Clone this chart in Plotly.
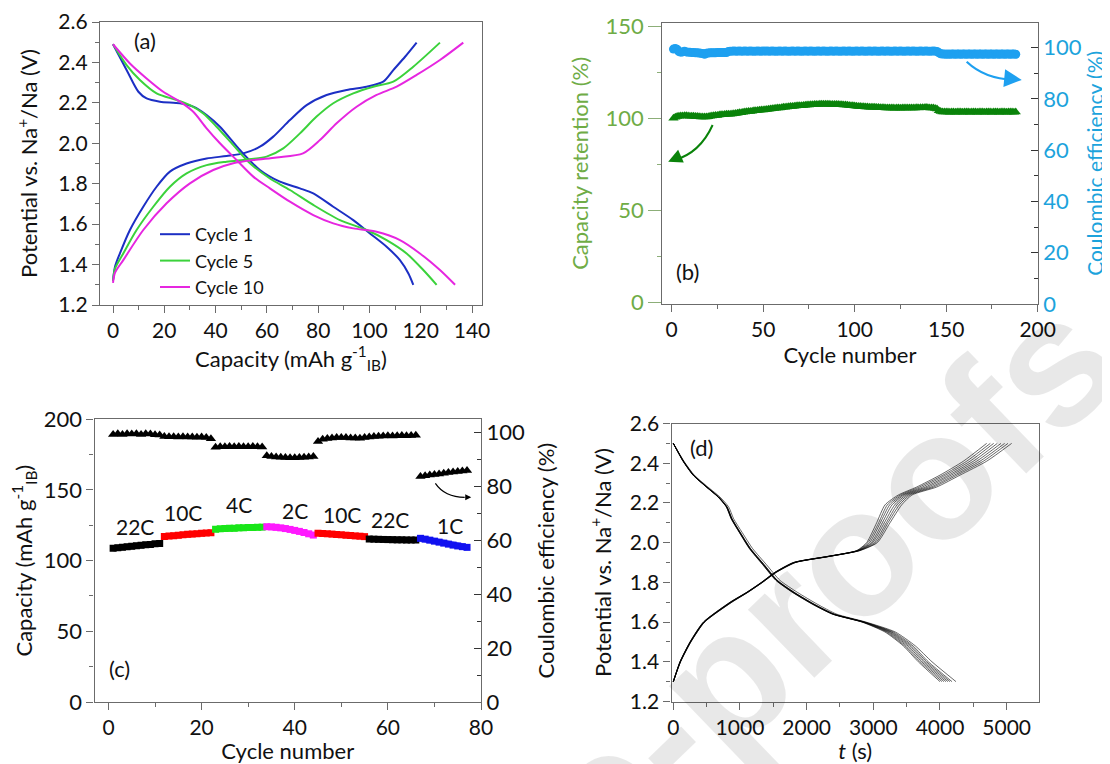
import plotly.graph_objects as go

# page is rendered with an 8 px body margin: figure sized to fit the window exactly
OFF = 8
W, H = 1110 - OFF, 764 - OFF
FONT = "Lato, 'Open Sans', sans-serif"
FRAME = "#6b6b6b"
TXT = "#111111"

# ---------------- (a) charge/discharge profiles ----------------
a_c1_dis_cap = [0, 5.3, 9.9, 13.1, 18.3, 26.1, 31.3, 36.5, 41.7, 49.5, 57.3, 65.1, 72.9, 78.1, 85.9, 93.7, 100.2, 106.7, 111.9, 115.2, 117.1]
a_c1_dis_v = [2.49, 2.363, 2.255, 2.222, 2.206, 2.198, 2.181, 2.14, 2.082, 1.967, 1.868, 1.81, 1.777, 1.752, 1.686, 1.62, 1.554, 1.488, 1.422, 1.356, 1.30]
a_c1_chg_cap = [0, 0.8, 2.7, 6.6, 11.8, 17, 22.2, 28.7, 36.5, 44.3, 50.8, 57.3, 62.5, 69, 75.5, 83.3, 91.1, 98.9, 105.4, 109.3, 113.9, 118.4]
a_c1_chg_v = [1.32, 1.39, 1.455, 1.571, 1.686, 1.785, 1.86, 1.9, 1.925, 1.937, 1.95, 1.983, 2.033, 2.115, 2.189, 2.239, 2.264, 2.28, 2.305, 2.362, 2.428, 2.498]

a_c5_dis_cap = [0, 5.3, 10.5, 17, 24.8, 30, 35.2, 40.4, 46.9, 53.4, 61.2, 69, 78.1, 88.5, 98.9, 106.7, 114.5, 121, 126.2]
a_c5_dis_v = [2.49, 2.387, 2.313, 2.247, 2.214, 2.189, 2.148, 2.082, 1.991, 1.901, 1.826, 1.769, 1.695, 1.62, 1.571, 1.521, 1.455, 1.373, 1.30]
a_c5_chg_cap = [0, 0.8, 4, 9.2, 15.7, 22.2, 28.7, 36.5, 44.3, 52.1, 59.9, 66.4, 72.9, 79.4, 85.9, 93.7, 101.5, 109.3, 117.1, 127.5]
a_c5_chg_v = [1.32, 1.38, 1.455, 1.571, 1.686, 1.785, 1.851, 1.892, 1.909, 1.92, 1.934, 1.975, 2.049, 2.132, 2.198, 2.247, 2.28, 2.305, 2.379, 2.498]

a_c10_dis_cap = [0, 6.6, 13.1, 19.6, 26.1, 31.3, 36.5, 41.7, 48.2, 54.7, 61.2, 69, 78.1, 85.9, 93.7, 102.8, 111.9, 119.7, 127.5, 133.4]
a_c10_dis_v = [2.49, 2.395, 2.321, 2.255, 2.206, 2.156, 2.074, 2.0, 1.917, 1.835, 1.777, 1.711, 1.645, 1.604, 1.579, 1.562, 1.521, 1.455, 1.373, 1.30]
a_c10_chg_cap = [0, 0.8, 4, 11.8, 20.9, 30, 39.1, 46.9, 54.7, 63.8, 74.1, 80.7, 87.2, 95, 102.8, 110.6, 118.4, 127.5, 136.6]
a_c10_chg_v = [1.31, 1.36, 1.422, 1.571, 1.703, 1.802, 1.868, 1.901, 1.917, 1.93, 1.95, 2.016, 2.099, 2.181, 2.239, 2.28, 2.338, 2.412, 2.498]

a_names = ["Cycle 1", "Cycle 5", "Cycle 10"]
a_colors = ["#1c2fc4", "#3bd23b", "#e626e0"]

# ---------------- (b) long cycling ----------------
b_retention = [
    100.2, 100.8, 101.2, 101.4, 101.5, 101.5, 101.6, 101.6, 101.5, 101.4,
    101.3, 101.3, 101.2, 101.2, 101.1, 101.0, 100.9, 100.9, 101.0, 101.1,
    101.3, 101.5, 101.6, 101.7, 101.8, 102.0, 102.1, 102.2, 102.3, 102.4,
    102.4, 102.5, 102.6, 102.7, 102.9, 103.0, 103.2, 103.3, 103.5, 103.6,
    103.8, 103.9, 104.0, 104.1, 104.3, 104.4, 104.5, 104.6, 104.7, 104.8,
    104.9, 105.0, 105.2, 105.3, 105.4, 105.5, 105.7, 105.8, 105.9, 106.0,
    106.2, 106.3, 106.4, 106.5, 106.6, 106.7, 106.8, 106.9, 107.0, 107.0,
    107.1, 107.2, 107.3, 107.4, 107.5, 107.6, 107.6, 107.7, 107.7, 107.8,
    107.9, 107.9, 107.9, 107.9, 107.9, 107.9, 107.8, 107.8, 107.8, 107.7,
    107.7, 107.6, 107.6, 107.5, 107.4, 107.3, 107.2, 107.1, 107.0, 106.9,
    106.8, 106.7, 106.6, 106.5, 106.5, 106.4, 106.4, 106.3, 106.3, 106.2,
    106.2, 106.1, 106.1, 106.0, 106.0, 106.0, 105.9, 105.9, 105.9, 105.8,
    105.8, 105.7, 105.8, 105.8, 105.7, 105.8, 105.8, 105.9, 105.8, 105.8,
    105.9, 105.9, 105.9, 106.0, 105.9, 106.0, 106.0, 106.0, 106.1, 106.0,
    105.9, 105.9, 105.8, 105.6, 105.3,
    104.4, 103.9, 103.7, 103.6, 103.6,
    103.6, 103.5, 103.6, 103.6, 103.5, 103.6, 103.6, 103.6, 103.5, 103.6,
    103.6, 103.6, 103.5, 103.6, 103.6, 103.6, 103.5, 103.6, 103.6, 103.6,
    103.5, 103.6, 103.6, 103.6, 103.5, 103.6, 103.6, 103.6, 103.5, 103.6,
    103.6, 103.6, 103.5, 103.6, 103.6, 103.6, 103.5, 103.6,
]
b_ce = [
    99.4, 99.6, 99.3, 98.4, 98.2, 98.3, 98.6, 98.3, 98.2, 98.2,
    98.1, 98.1, 98.0, 98.0, 97.9, 97.8, 97.7, 97.4, 97.8, 97.9,
    98.0, 98.0, 98.0, 98.0, 98.1, 98.1, 98.1, 98.1, 98.1, 98.1,
    98.5, 98.6, 98.6, 98.7, 98.6, 98.6, 98.7, 98.6, 98.6, 98.7,
    98.6, 98.6, 98.7, 98.6, 98.6, 98.6, 98.7, 98.6, 98.6, 98.7,
    98.6, 98.7, 98.6, 98.6, 98.7, 98.6, 98.6, 98.6, 98.7, 98.6,
    98.6, 98.7, 98.6, 98.6, 98.6, 98.7, 98.6, 98.6, 98.7, 98.6,
    98.6, 98.6, 98.7, 98.6, 98.6, 98.7, 98.6, 98.6, 98.6, 98.7,
    98.6, 98.6, 98.7, 98.6, 98.6, 98.6, 98.7, 98.6, 98.6, 98.7,
    98.6, 98.6, 98.6, 98.7, 98.6, 98.6, 98.7, 98.6, 98.6, 98.6,
    98.7, 98.6, 98.6, 98.7, 98.6, 98.6, 98.6, 98.7, 98.6, 98.6,
    98.7, 98.6, 98.6, 98.6, 98.7, 98.6, 98.6, 98.7, 98.6, 98.6,
    98.6, 98.7, 98.6, 98.6, 98.7, 98.6, 98.6, 98.6, 98.7, 98.6,
    98.6, 98.7, 98.6, 98.6, 98.6, 98.7, 98.6, 98.6, 98.7, 98.6,
    98.6, 98.6, 98.7, 98.6, 98.5,
    98.0, 97.6, 97.5, 97.5, 97.4,
    97.5, 97.4, 97.5, 97.5, 97.4, 97.5, 97.5, 97.4, 97.5, 97.5,
    97.4, 97.5, 97.5, 97.4, 97.5, 97.5, 97.4, 97.5, 97.5, 97.4,
    97.5, 97.5, 97.4, 97.5, 97.5, 97.4, 97.5, 97.5, 97.4, 97.5,
    97.5, 97.4, 97.5, 97.5, 97.4, 97.5, 97.5, 97.4,
]
b_cycles = list(range(1, len(b_retention) + 1))

# ---------------- (c) rate capability ----------------
c_rates = ["22C", "10C", "4C", "2C", "10C", "22C", "1C"]
c_seg_colors = ["#000000", "#ff0000", "#19e619", "#ff1aff", "#ff0000", "#000000", "#1010f0"]
c_capacity = [
    [108.8, 109.2, 109.5, 109.9, 110.2, 110.5, 110.9, 111.2, 111.5, 111.9, 112.2],
    [117.1, 117.4, 117.7, 118.0, 118.3, 118.6, 118.8, 119.1, 119.3, 119.6, 119.8],
    [122.3, 122.5, 122.7, 122.9, 123.0, 123.2, 123.3, 123.4, 123.5, 123.6, 123.7],
    [124.0, 123.9, 123.6, 123.2, 122.7, 122.1, 121.4, 120.7, 119.9, 119.0, 118.1],
    [119.4, 119.2, 119.0, 118.8, 118.5, 118.3, 118.0, 117.8, 117.5, 117.3, 117.0],
    [115.3, 115.2, 115.1, 115.0, 114.9, 114.8, 114.7, 114.7, 114.6, 114.6, 114.6],
    [115.8, 115.2, 114.5, 113.8, 113.1, 112.4, 111.7, 111.0, 110.4, 109.9, 109.4],
]
c_ce = [
    [99.4, 99.6, 99.4, 99.6, 99.5, 99.6, 99.4, 99.6, 99.5, 99.3, 99.2],
    [98.6, 98.5, 98.5, 98.4, 98.5, 98.4, 98.4, 98.3, 98.4, 98.2, 97.8],
    [94.6, 94.8, 94.8, 94.9, 94.8, 94.9, 94.8, 94.8, 94.9, 94.8, 94.7],
    [91.5, 91.2, 91.0, 90.9, 90.8, 90.7, 90.7, 90.8, 90.9, 91.0, 91.2],
    [96.8, 97.6, 97.9, 98.1, 98.2, 98.2, 98.2, 98.1, 98.1, 98.0, 98.2],
    [98.4, 98.6, 98.7, 98.8, 98.9, 98.8, 98.9, 99.0, 98.9, 99.0, 99.1],
    [83.8, 84.0, 84.3, 84.5, 84.7, 85.0, 85.2, 85.4, 85.6, 85.8, 86.0],
]
c_label_x = [5.7, 16.0, 28.1, 40.0, 50.2, 60.4, 73.3]
c_label_y = [124.5, 133.9, 139.4, 135.8, 132.3, 128.8, 125.2]

# ---------------- (d) repeated galvanostatic cycles ----------------
d_chg_v = [1.30, 1.40, 1.50, 1.60, 1.70, 1.75, 1.80, 1.85, 1.90, 1.93, 1.96, 2.00, 2.10, 2.19, 2.24, 2.28, 2.34, 2.41, 2.50]
d_chg_t = [
    [0, 100, 250, 450, 850, 1100, 1320, 1520, 1800, 2300, 2750, 2900, 3050, 3175, 3375, 3650, 4000, 4350, 4700],
    [0, 100, 252, 453, 854, 1103, 1323, 1523, 1805, 2305, 2757, 2920, 3080, 3210, 3405, 3690, 4045, 4400, 4755],
    [0, 102, 254, 456, 858, 1106, 1326, 1526, 1810, 2310, 2764, 2945, 3105, 3245, 3435, 3735, 4085, 4450, 4805],
    [0, 104, 256, 459, 862, 1109, 1329, 1530, 1815, 2315, 2771, 2970, 3135, 3280, 3460, 3780, 4130, 4500, 4860],
    [0, 105, 258, 462, 866, 1112, 1332, 1533, 1820, 2320, 2779, 2990, 3165, 3320, 3490, 3820, 4170, 4550, 4915],
    [0, 106, 260, 465, 870, 1115, 1335, 1537, 1825, 2325, 2786, 3015, 3195, 3355, 3520, 3865, 4215, 4600, 4970],
    [0, 108, 262, 468, 875, 1118, 1338, 1541, 1830, 2330, 2793, 3040, 3220, 3390, 3550, 3905, 4255, 4650, 5020],
    [0, 110, 265, 470, 880, 1121, 1340, 1545, 1835, 2335, 2800, 3060, 3250, 3425, 3580, 3950, 4300, 4700, 5075],
]
d_dis_v = [2.50, 2.41, 2.34, 2.28, 2.23, 2.18, 2.12, 2.05, 1.97, 1.89, 1.81, 1.75, 1.69, 1.64, 1.60, 1.55, 1.48, 1.40, 1.30]
d_dis_t = [
    [0, 145, 295, 495, 670, 795, 868, 992, 1140, 1338, 1538, 1785, 2085, 2385, 2830, 3175, 3450, 3675, 4000],
    [0, 148, 298, 498, 672, 797, 870, 995, 1145, 1342, 1542, 1790, 2090, 2390, 2838, 3195, 3470, 3700, 4030],
    [0, 150, 300, 500, 675, 800, 873, 998, 1148, 1346, 1546, 1795, 2095, 2395, 2845, 3215, 3495, 3725, 4060],
    [0, 150, 300, 500, 675, 800, 875, 1000, 1150, 1350, 1550, 1800, 2100, 2400, 2850, 3235, 3520, 3750, 4090],
    [0, 152, 302, 502, 678, 803, 878, 1002, 1153, 1354, 1554, 1805, 2105, 2405, 2858, 3255, 3545, 3775, 4120],
    [0, 152, 304, 504, 680, 805, 880, 1005, 1156, 1358, 1558, 1810, 2110, 2410, 2865, 3275, 3570, 3800, 4150],
    [0, 155, 306, 506, 682, 808, 882, 1008, 1160, 1362, 1562, 1815, 2115, 2415, 2872, 3300, 3595, 3825, 4180],
    [0, 160, 315, 520, 700, 830, 905, 1035, 1190, 1395, 1600, 1860, 2160, 2450, 2890, 3330, 3630, 3880, 4240],
]

fig = go.Figure()

# (a)
a_sets = [
    (a_c1_dis_cap, a_c1_dis_v, a_c1_chg_cap, a_c1_chg_v),
    (a_c5_dis_cap, a_c5_dis_v, a_c5_chg_cap, a_c5_chg_v),
    (a_c10_dis_cap, a_c10_dis_v, a_c10_chg_cap, a_c10_chg_v),
]
for name, col, (dc, dv, cc, cv) in zip(a_names, a_colors, a_sets):
    fig.add_trace(go.Scatter(x=dc, y=dv, mode="lines", name=name, legendgroup=name,
                             line=dict(color=col, width=2, shape="spline", smoothing=0.8),
                             xaxis="x", yaxis="y"))
    fig.add_trace(go.Scatter(x=cc, y=cv, mode="lines", name=name, legendgroup=name, showlegend=False,
                             line=dict(color=col, width=2, shape="spline", smoothing=0.8),
                             xaxis="x", yaxis="y"))

# (b)
fig.add_trace(go.Scatter(x=b_cycles, y=b_retention, mode="lines+markers", showlegend=False,
                         line=dict(color="#0a830a", width=2),
                         marker=dict(symbol="triangle-up", size=9, color="#0a830a"),
                         xaxis="x2", yaxis="y2"))
fig.add_trace(go.Scatter(x=b_cycles, y=b_ce, mode="lines+markers", showlegend=False,
                         line=dict(color="#1ea0f0", width=2),
                         marker=dict(symbol="circle", size=9, color="#1ea0f0"),
                         xaxis="x2", yaxis="y3"))

# (c)
start = 1
for seg, ce_seg, col in zip(c_capacity, c_ce, c_seg_colors):
    xs = list(range(start, start + len(seg)))
    fig.add_trace(go.Scatter(x=xs, y=seg, mode="lines+markers", showlegend=False,
                             line=dict(color=col, width=6),
                             marker=dict(symbol="square", size=7, color=col),
                             xaxis="x3", yaxis="y4"))
    fig.add_trace(go.Scatter(x=xs, y=ce_seg, mode="lines+markers", showlegend=False,
                             line=dict(color="#000000", width=1.5),
                             marker=dict(symbol="triangle-up", size=9, color="#000000"),
                             xaxis="x3", yaxis="y5"))
    start += len(seg)

# (d)
for ts in d_chg_t:
    fig.add_trace(go.Scatter(x=ts, y=d_chg_v, mode="lines", showlegend=False,
                             line=dict(color="rgba(0,0,0,0.75)", width=0.8, shape="spline", smoothing=0.6),
                             xaxis="x4", yaxis="y6"))
for ts in d_dis_t:
    fig.add_trace(go.Scatter(x=ts, y=d_dis_v, mode="lines", showlegend=False,
                             line=dict(color="rgba(0,0,0,0.75)", width=0.8, shape="spline", smoothing=0.6),
                             xaxis="x4", yaxis="y6"))


def px_dom_x(a, b):
    return [(a - OFF) / W, (b - OFF) / W]


def px_dom_y(top, bottom):
    return [1 - (bottom - OFF) / H, 1 - (top - OFF) / H]


def pxx(a):
    return (a - OFF) / W


def pxy(b):
    return 1 - (b - OFF) / H


tickfont = dict(family=FONT, size=21, color=TXT)
titlefont = dict(family=FONT, size=22, color=TXT)


def ax(domain, rng, dtick, minor_dtick, anchor, title="", ticks="outside", ticklen=7,
       tickcolor=FRAME, tfont=None, ttfont=None, standoff=8, **kw):
    d = dict(domain=domain, range=rng, dtick=dtick, tick0=0, anchor=anchor, automargin=False,
             showline=True, linecolor=FRAME, linewidth=1.3, mirror=True,
             ticks=ticks, ticklen=ticklen, tickwidth=1.2, tickcolor=tickcolor,
             minor=dict(dtick=minor_dtick, tick0=0, ticks=ticks, ticklen=4, tickwidth=1, tickcolor=tickcolor),
             showgrid=False, zeroline=False, tickfont=tfont or tickfont,
             title=dict(text=title, font=ttfont or titlefont, standoff=standoff))
    d.update(kw)
    return d


GREEN_T = "#6fac46"
BLUE_T = "#1ca3dc"

fig.update_layout(
    width=W, height=H, margin=dict(l=0, r=0, t=0, b=0, autoexpand=False),
    paper_bgcolor="white", plot_bgcolor="white",
    font=dict(family=FONT, color=TXT),
    showlegend=True,
    legend=dict(x=pxx(155), y=pxy(216), xanchor="left", yanchor="top",
                bgcolor="rgba(0,0,0,0)", font=dict(family=FONT, size=18, color=TXT),
                tracegroupgap=0, itemwidth=30),
    # (a)
    xaxis=ax(px_dom_x(100, 482), [-5.07, 143.9], 20, 10, "y",
             "Capacity (mAh g<sup>-1</sup><sub>IB</sub>)", standoff=3),
    yaxis=ax(px_dom_y(22, 305), [1.2, 2.6], 0.2, 0.1, "x",
             "Potential vs. Na<sup>+</sup>/Na (V)", standoff=14, tickformat=".1f"),
    # (b)
    xaxis2=ax(px_dom_x(662.3, 1037.7), [-5.1, 200], 50, 25, "y2", "Cycle number", standoff=4),
    yaxis2=ax(px_dom_y(22.7, 304), [-0.7, 152.2], 50, 25, "x2", "Capacity retention (%)",
              ticklen=13, tickcolor="#8cae78",
              tfont=dict(family=FONT, size=22, color=GREEN_T),
              ttfont=dict(family=FONT, size=22, color=GREEN_T), standoff=10),
    yaxis3=ax(px_dom_y(22.7, 304), [0, 109.7], 20, 10, "x2", "Coulombic efficiency (%)",
              ticks="inside", ticklen=7, tickcolor="#333333",
              tfont=dict(family=FONT, size=22, color=BLUE_T),
              ttfont=dict(family=FONT, size=21, color=BLUE_T),
              overlaying="y2", side="right", standoff=0),
    # (c)
    xaxis3=ax(px_dom_x(94.5, 481), [-3.0, 80], 20, 10, "y4", "Cycle number", standoff=6),
    yaxis4=ax(px_dom_y(419.3, 702), [0, 200], 50, 25, "x3",
              "Capacity (mAh g<sup>-1</sup><sub>IB</sub>)", standoff=10,
              tfont=dict(family=FONT, size=22, color=TXT)),
    yaxis5=ax(px_dom_y(419.3, 702), [0, 105], 20, 10, "x3", "Coulombic efficiency (%)",
              ticks="inside", tickcolor="#333333", overlaying="y4", side="right", standoff=14,
              tfont=dict(family=FONT, size=22, color=TXT)),
    # (d)
    xaxis4=ax(px_dom_x(671.5, 1038.8), [-27, 5482], 1000, 500, "y6", "<i>t</i> (s)", standoff=6),
    yaxis6=ax(px_dom_y(423.5, 701.5), [1.2, 2.6], 0.2, 0.1, "x4",
              "Potential vs. Na<sup>+</sup>/Na (V)", standoff=12, tickformat=".1f"),
)

annos = []
# watermark
annos.append(dict(text="Journal Pre-proofs", xref="paper", yref="paper", x=pxx(506), y=pxy(888),
                  xanchor="center", yanchor="middle",
                  showarrow=False, textangle=-44,
                  font=dict(family="Liberation Sans, Arial, sans-serif", size=180, color="rgba(0,0,0,0.09)",
                            weight="bold")))
# panel labels
lab_font = dict(family=FONT, size=22, color=TXT)
annos.append(dict(text="(a)", x=12.5, y=2.51, xref="x", yref="y", showarrow=False, font=lab_font))
annos.append(dict(text="(b)", x=8.9, y=16.7, xref="x2", yref="y2", showarrow=False, font=lab_font))
annos.append(dict(text="(c)", x=2.3, y=24, xref="x3", yref="y4", showarrow=False, font=lab_font))
annos.append(dict(text="(d)", x=430, y=2.477, xref="x4", yref="y6", showarrow=False, font=lab_font))
# rate labels in (c)
for t, lx, ly in zip(c_rates, c_label_x, c_label_y):
    annos.append(dict(text=t, x=lx, y=ly, xref="x3", yref="y4", showarrow=False,
                      font=dict(family=FONT, size=21, color=TXT)))
# arrowheads
annos.append(dict(text="", x=-1.9, y=76.6, xref="x2", yref="y2", showarrow=True,
                  ax=9, ay=-4, arrowhead=2, arrowsize=1.4, arrowwidth=2, arrowcolor="#0a830a"))
annos.append(dict(text="", x=191.3, y=87.4, xref="x2", yref="y3", showarrow=True,
                  ax=-10, ay=-1, arrowhead=2, arrowsize=1.6, arrowwidth=2.2, arrowcolor="#1ea0f0"))
annos.append(dict(text="", x=77.9, y=144.8, xref="x3", yref="y4", showarrow=True,
                  ax=-7, ay=0, arrowhead=2, arrowsize=1, arrowwidth=1.2, arrowcolor="#000000"))

shapes = [
    dict(type="path", xref="x2", yref="y2", path="M 22.4,96.6 Q 15.5,81.4 1.5,77.5",
         line=dict(color="#0a830a", width=2)),
    dict(type="path", xref="x2", yref="y3", path="M 161.2,94.5 Q 171.2,87.8 186.5,87.5",
         line=dict(color="#1ea0f0", width=2.2)),
    dict(type="path", xref="x3", yref="y4", path="M 70.2,154.7 Q 72.2,145 76.5,144.8",
         line=dict(color="#000000", width=1.2)),
]

fig.update_layout(annotations=annos, shapes=shapes)
fig.write_html("out.html")
